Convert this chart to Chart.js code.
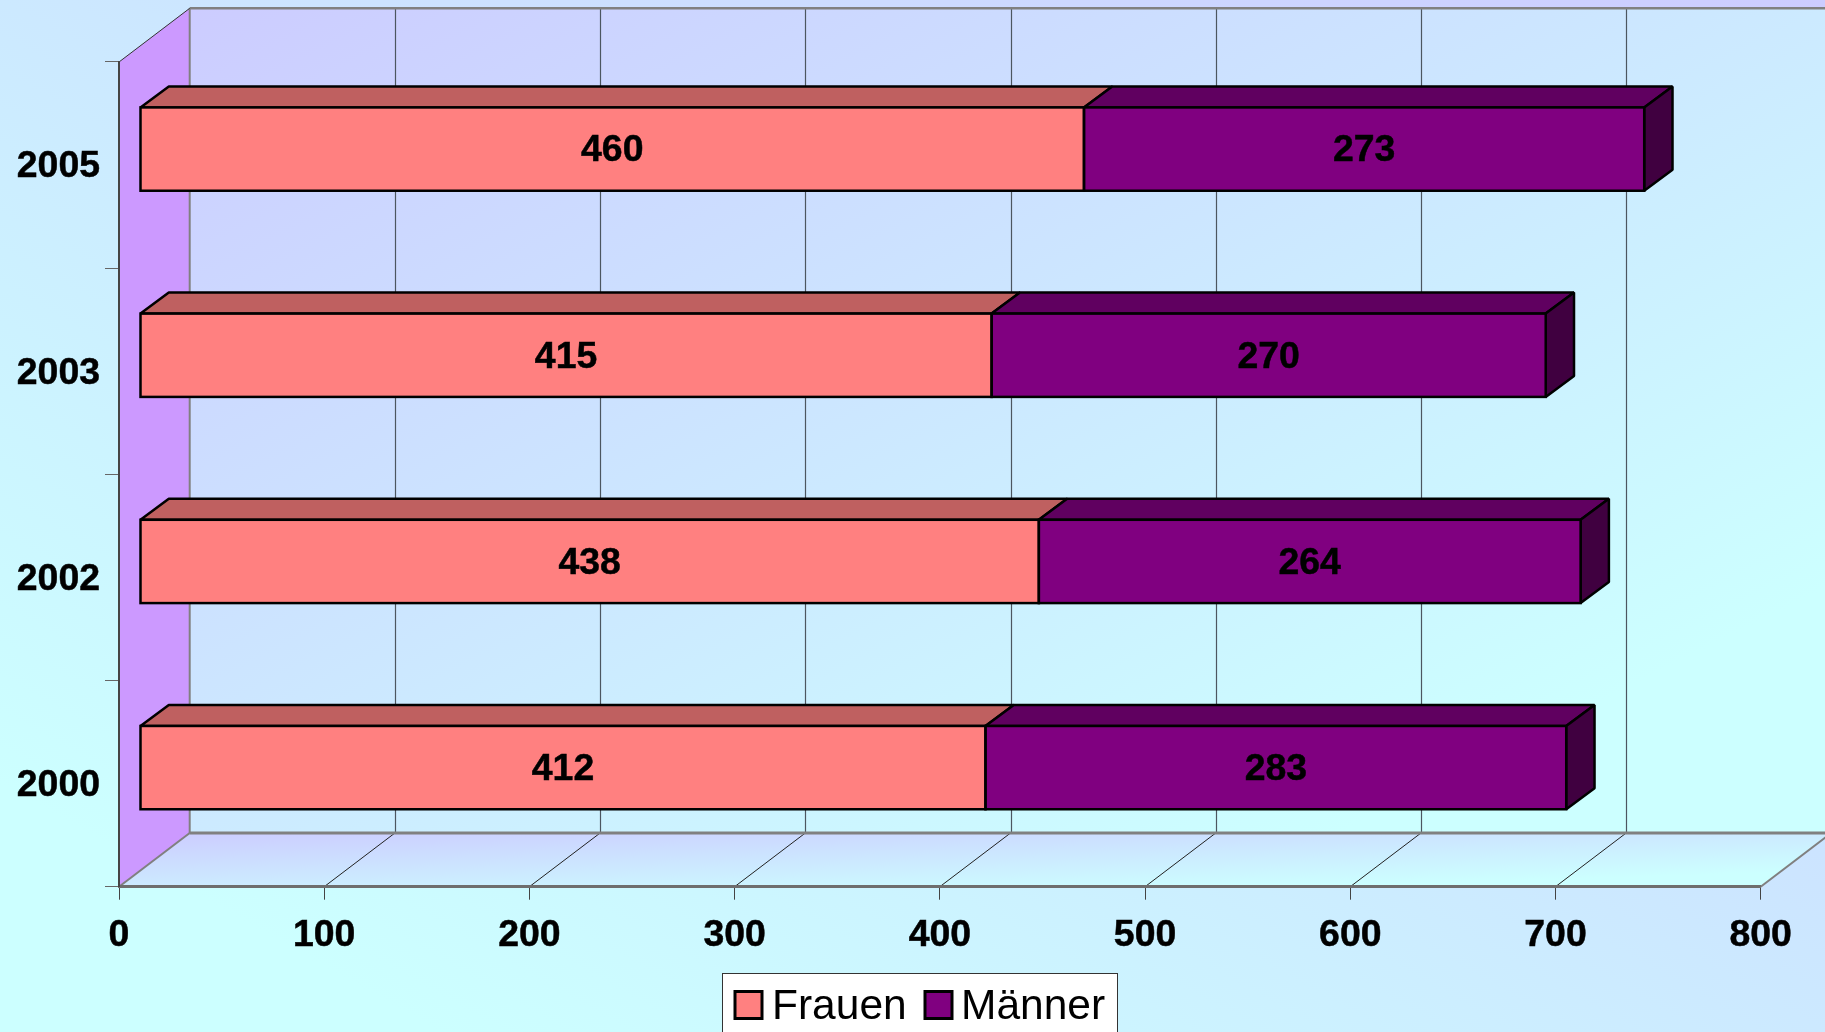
<!DOCTYPE html>
<html>
<head>
<meta charset="utf-8">
<style>
  html, body { margin: 0; padding: 0; background: #ccffff; overflow: hidden; }
  canvas { display: block; }
</style>
<script src="https://cdn.jsdelivr.net/npm/chart.js@4"></script>
</head>
<body>
<canvas id="chart" width="1825" height="1032"></canvas>
<script>
const years = ['2005', '2003', '2002', '2000']
const frauen = [460, 415, 438, 412]
const maenner = [273, 270, 264, 283]
const xTicks = [0, 100, 200, 300, 400, 500, 600, 700, 800]

const font = 'Liberation Sans, Arial, sans-serif'
const wallDx = 70.7, wallDy = -53.7   // depth of the box
const barDx = 21, barDy = -16         // bars stand a bit behind the front plane
const depthDx = 28.3, depthDy = -21   // depth of a bar
const edge = 2.5                      // black outline of the bars

function diagonal(ctx, x0, y0, x1, y1, stops) {
  // corner to corner gradient, like css "to bottom right"
  const w = x1 - x0, h = y1 - y0
  const cx = (x0 + x1) / 2, cy = (y0 + y1) / 2
  const k = (w * h) / (w * w + h * h)
  const g = ctx.createLinearGradient(cx - k * h, cy - k * w, cx + k * h, cy + k * w)
  stops.forEach(s => g.addColorStop(s[0], s[1]))
  return g
}

function poly(ctx, pts, fill, stroke, width) {
  ctx.beginPath()
  pts.forEach((p, i) => i ? ctx.lineTo(p[0], p[1]) : ctx.moveTo(p[0], p[1]))
  ctx.closePath()
  if (fill) { ctx.fillStyle = fill; ctx.fill() }
  if (stroke) { ctx.strokeStyle = stroke; ctx.lineWidth = width; ctx.stroke() }
}

function line(ctx, x0, y0, x1, y1, color, width) {
  ctx.beginPath()
  ctx.moveTo(x0, y0)
  ctx.lineTo(x1, y1)
  ctx.strokeStyle = color
  ctx.lineWidth = width
  ctx.stroke()
}

const box3d = {
  id: 'box3d',
  beforeDraw(chart) {
    const ctx = chart.ctx
    const { left, right, top, bottom } = chart.chartArea
    const backLeft = left + wallDx, backRight = right + wallDx
    const backTop = top + wallDy, backBottom = bottom + wallDy
    const lav = '#ccccff', cyan = '#ccffff'
    ctx.save()

    // page
    const w = chart.width, h = chart.height
    const k = (w * h) / (w * w + h * h)
    const page = ctx.createLinearGradient(w / 2 - k * h, h / 2 + k * w, w / 2 + k * h, h / 2 - k * w)
    page.addColorStop(0, cyan)
    page.addColorStop(0.12, cyan)
    page.addColorStop(1, lav)
    ctx.fillStyle = page
    ctx.fillRect(0, 0, w, h)

    // back wall and floor
    const stops = [[0, lav], [0.85, cyan], [1, cyan]]
    ctx.fillStyle = diagonal(ctx, backLeft, backTop, backRight, backBottom, stops)
    ctx.fillRect(backLeft, backTop, backRight - backLeft, backBottom - backTop)
    poly(ctx, [[left, bottom], [right, bottom], [backRight, backBottom], [backLeft, backBottom]],
      diagonal(ctx, left, backBottom, backRight, bottom, stops))

    // side wall
    poly(ctx, [[left, top], [backLeft, backTop], [backLeft, backBottom], [left, bottom]], '#cc99ff')

    // grid lines on wall and floor
    const xs = chart.scales.x
    xs.ticks.forEach((t, i) => {
      const x = xs.getPixelForTick(i)
      if (i > 0) {
        const bx = Math.round(x + wallDx) + 0.5
        line(ctx, bx, backTop, bx, backBottom, '#4c5660', 1.2)
        if (i < xs.ticks.length - 1) line(ctx, x, bottom, x + wallDx, backBottom, '#222222', 1)
      }
    })

    // box edges
    line(ctx, backLeft, backTop, backRight, backTop, '#808080', 2.5)
    line(ctx, backLeft, backTop, backLeft, backBottom, '#808080', 2)
    line(ctx, backLeft, backBottom, backRight, backBottom, '#808080', 3)
    line(ctx, left, bottom, backLeft, backBottom, '#808080', 2)
    line(ctx, right, bottom, backRight, backBottom, '#808080', 2)
    line(ctx, left, top, backLeft, backTop, '#333333', 1)
    ctx.restore()
  },
  beforeDatasetsDraw(chart) {
    const ctx = chart.ctx
    ctx.save()
    ctx.lineJoin = 'bevel'
    chart.data.datasets.forEach((ds, di) => {
      chart.getDatasetMeta(di).data.forEach(bar => {
        const x0 = bar.base + barDx, x1 = bar.x + barDx
        const y0 = bar.y - bar.height / 2 + barDy, y1 = bar.y + bar.height / 2 + barDy
        poly(ctx, [[x0, y0], [x1, y0], [x1 + depthDx, y0 + depthDy], [x0 + depthDx, y0 + depthDy]],
          ds.topColor, '#000000', edge)
        if (di === chart.data.datasets.length - 1) {
          poly(ctx, [[x1, y0], [x1 + depthDx, y0 + depthDy], [x1 + depthDx, y1 + depthDy], [x1, y1]],
            ds.sideColor, '#000000', edge)
        }
      })
    })
    ctx.restore()
  },
  beforeDatasetDraw(chart) {
    chart.ctx.save()
    chart.ctx.translate(barDx, barDy)
  },
  afterDatasetDraw(chart) {
    chart.ctx.restore()
  },
  afterDatasetsDraw(chart) {
    const ctx = chart.ctx
    ctx.save()
    // outline centred on the bar edges, the library would draw it inside
    ctx.strokeStyle = '#000000'
    ctx.lineWidth = edge
    chart.data.datasets.forEach((ds, di) => {
      chart.getDatasetMeta(di).data.forEach(bar => {
        ctx.strokeRect(bar.base + barDx, bar.y - bar.height / 2 + barDy, bar.x - bar.base, bar.height)
      })
    })
    ctx.font = 'bold 37.4px ' + font
    ctx.fillStyle = '#000000'
    ctx.textAlign = 'center'
    ctx.textBaseline = 'middle'
    ctx.lineWidth = 0.5
    chart.data.datasets.forEach((ds, di) => {
      chart.getDatasetMeta(di).data.forEach((bar, i) => {
        const tx = (bar.base + bar.x) / 2 + barDx, ty = bar.y + barDy + 2
        ctx.fillText(String(ds.data[i]), tx, ty)
        ctx.strokeText(String(ds.data[i]), tx, ty)
      })
    })
    ctx.restore()
  },
  afterDraw(chart) {
    // legend box runs off the bottom of the page
    const ctx = chart.ctx
    ctx.save()
    ctx.fillStyle = '#ffffff'
    ctx.fillRect(723, 973, 395, 70)
    ctx.strokeStyle = '#333333'
    ctx.lineWidth = 1
    ctx.strokeRect(722.5, 973.5, 395, 70)
    ctx.font = '42.5px ' + font
    ctx.textBaseline = 'alphabetic'
    ctx.textAlign = 'left'
    const spots = [[735, 772], [925, 961]]
    chart.data.datasets.forEach((ds, di) => {
      ctx.fillStyle = ds.backgroundColor
      ctx.fillRect(spots[di][0], 991.5, 27, 27)
      ctx.strokeStyle = '#000000'
      ctx.lineWidth = 3
      ctx.strokeRect(spots[di][0], 991.5, 27, 27)
      ctx.fillStyle = '#000000'
      ctx.fillText(ds.label, spots[di][1], 1019)
    })
    ctx.restore()
  }
}

const chart = new Chart(document.getElementById('chart'), {
  type: 'bar',
  plugins: [box3d],
  data: {
    labels: years,
    datasets: [{
      label: 'Frauen',
      data: frauen,
      backgroundColor: '#ff8080',
      topColor: '#bf6060',
      borderWidth: 0,
      clip: false
    }, {
      label: 'Männer',
      data: maenner,
      backgroundColor: '#800080',
      topColor: '#600060',
      sideColor: '#400040',
      borderWidth: 0,
      clip: false
    }]
  },
  options: {
    indexAxis: 'y',
    responsive: false,
    animation: false,
    layout: { padding: { left: 0, right: 64.3, top: 62, bottom: 0 } },
    datasets: { bar: { categoryPercentage: 1, barPercentage: 0.404 } },
    plugins: { legend: { display: false }, tooltip: { enabled: false } },
    scales: {
      x: {
        stacked: true,
        min: 0,
        max: 800,
        afterBuildTicks: scale => { scale.ticks = xTicks.map(v => ({ value: v })) },
        afterFit: scale => { scale.height = 145.3 },
        grid: { drawOnChartArea: false, tickLength: 13, tickColor: '#444444', tickWidth: 1 },
        border: { color: '#6e6e6e', width: 3 },
        ticks: {
          color: '#000000', padding: 14, maxRotation: 0, autoSkip: false,
          textStrokeColor: '#000000', textStrokeWidth: 0.5,
          font: { family: font, size: 37.4, weight: 'bold' }
        }
      },
      y: {
        stacked: true,
        afterFit: scale => { scale.width = 119 },
        grid: { drawOnChartArea: false, tickLength: 14, tickColor: '#666666', tickWidth: 1, offset: true },
        border: { color: '#444444', width: 2 },
        ticks: {
          color: '#000000', padding: 5, labelOffset: 2,
          textStrokeColor: '#000000', textStrokeWidth: 0.5,
          font: { family: font, size: 37.4, weight: 'bold' }
        }
      }
    }
  }
})
</script>
</body>
</html>
